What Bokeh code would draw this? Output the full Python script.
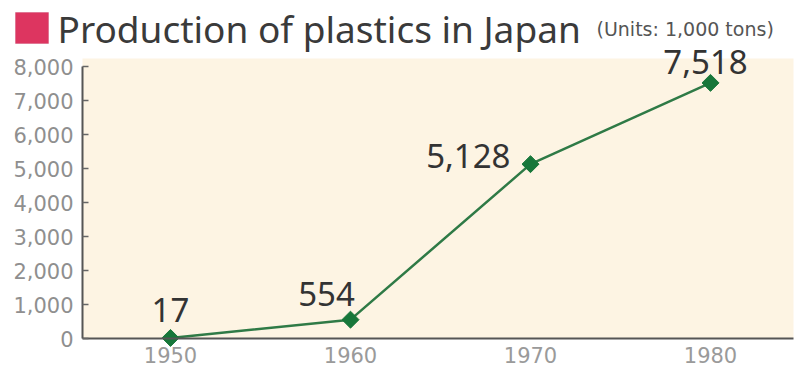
import math
from bokeh.plotting import figure
from bokeh.models import Label, BoxAnnotation, NumeralTickFormatter, FixedTicker, Range1d
from bokeh.embed import file_html
from bokeh.resources import INLINE

years = [1950, 1960, 1970, 1980]
production = [17, 554, 5128, 7518]
value_labels = ["17", "554", "5,128", "7,518"]
y_ticks = [0, 1000, 2000, 3000, 4000, 5000, 6000, 7000, 8000]
title_text = "Production of plastics in Japan"
units_text = "(Units: 1,000 tons)"

FONT = "Noto Sans"
WIDE_FONT = "DejaVu Sans"
W, H = 798, 367
PX_YEAR = 18.0            # px per year
PX_UNIT = 34.0 / 1000     # px per 1,000 tons
AX_X = 82                 # screen x of y axis
AX_Y = 338                # screen y of x axis
X0 = 1950 - (170 - AX_X) / PX_YEAR   # year at y axis
XMIN = X0 - AX_X / PX_YEAR
XMAX = XMIN + W / PX_YEAR
YMIN = -(H - AX_Y) / PX_UNIT
YMAX = AX_Y / PX_UNIT


def dx(sx):
    return XMIN + sx / PX_YEAR


def dy(sy):
    return (AX_Y - sy) / PX_UNIT


p = figure(width=W, height=H, output_backend="svg", toolbar_location=None,
           x_range=Range1d(XMIN, XMAX), y_range=Range1d(YMIN, YMAX),
           min_border=0)
p.background_fill_color = "white"
p.border_fill_color = "white"
p.outline_line_color = None
p.grid.visible = False

# cream plot background
p.add_layout(BoxAnnotation(left=X0, right=dx(793), bottom=0, top=dy(58),
                           fill_color="#FDF4E3", fill_alpha=1.0, line_color=None,
                           level="underlay"))

# axes
p.xaxis.fixed_location = 0
p.xaxis.bounds = (X0, dx(793))
p.xaxis.ticker = FixedTicker(ticks=years)
p.xaxis.axis_line_color = "#555555"
p.xaxis.axis_line_width = 2
p.xaxis.major_tick_line_color = None
p.xaxis.minor_tick_line_color = None
p.xaxis.major_label_text_font = WIDE_FONT
p.xaxis.major_label_text_font_size = "21px"
p.xaxis.major_label_text_color = "#9a9a9a"
p.xaxis.major_label_standoff = 2

p.yaxis.fixed_location = X0
p.yaxis.bounds = (0, 8000)
p.yaxis.ticker = FixedTicker(ticks=y_ticks)
p.yaxis.formatter = NumeralTickFormatter(format="0,0")
p.yaxis.axis_line_color = "#555555"
p.yaxis.axis_line_width = 2
p.yaxis.major_tick_in = 6
p.yaxis.major_tick_out = 0
p.yaxis.major_tick_line_color = "#666666"
p.yaxis.major_tick_line_width = 1.5
p.yaxis.minor_tick_line_color = None
p.yaxis.major_label_text_font = WIDE_FONT
p.yaxis.major_label_text_font_size = "21px"
p.yaxis.major_label_text_color = "#8f8f8f"
p.yaxis.major_label_standoff = 9

# data
p.line(years, production, line_color="#2F7A46", line_width=2.5)
p.scatter(years, production, marker="square", angle=math.pi / 4, size=12,
          fill_color="#17773A", line_color="#17773A")

offsets = [(0, 28, "center"), (-24, 26, "center"), (-20, 8, "right"), (-5, 21, "center")]
for yr, v, txt, (ox, oy, al) in zip(years, production, value_labels, offsets):
    p.add_layout(Label(x=yr, y=v, text=txt, x_offset=ox, y_offset=oy,
                       text_align=al, text_baseline="alphabetic",
                       text_font=FONT, text_font_size="33px", text_color="#333333"))

# title
p.add_layout(BoxAnnotation(left=dx(15), right=dx(48), top=dy(12), bottom=dy(43),
                           fill_color="#DD3560", fill_alpha=1.0, line_color="#C02C55",
                           line_width=1))
p.add_layout(Label(x=dx(57), y=dy(28), text=title_text, text_baseline="alphabetic",
                   text_font=FONT, text_font_size="37px", text_color="#3A3A3A"))
p.add_layout(Label(x=dx(596), y=dy(28), text=units_text, text_baseline="alphabetic",
                   text_font=WIDE_FONT, text_font_size="19px", text_color="#555555"))

open("out.html", "w").write(file_html(p, INLINE))
